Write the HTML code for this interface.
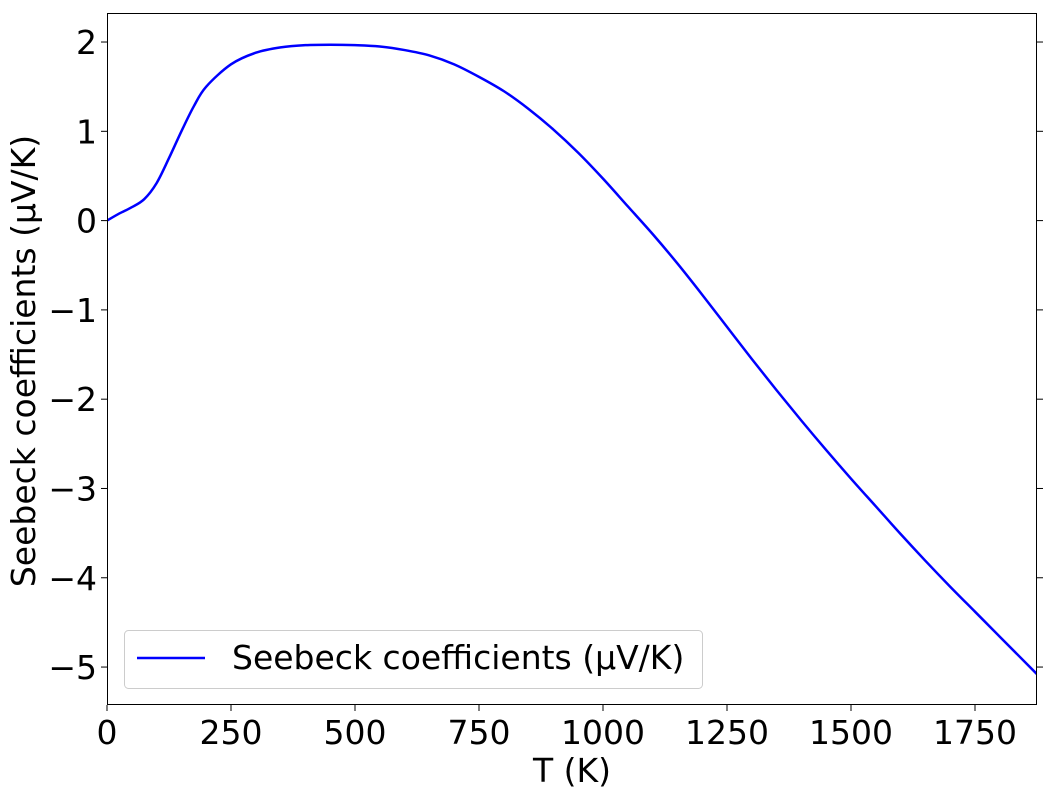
<!DOCTYPE html>
<html><head><meta charset="utf-8"><style>
body{margin:0;background:#fff;font-family:"DejaVu Sans",sans-serif}
svg text{font-family:"DejaVu Sans","Liberation Sans",sans-serif;fill:#000}
</style></head><body>
<svg width="1050" height="797">
<g id="g"></g>
</svg>
<script>
const temps=[0,25,50,75,100,125,150,175,200,250,300,350,400,450,500,550,600,650,700,750,800,850,900,950,1000,1050,1100,1150,1200,1250,1300,1350,1400,1450,1500,1550,1600,1650,1700,1750,1800,1875];
const seebeck=[0,0.08,0.15,0.24,0.42,0.7,1.0,1.28,1.5,1.75,1.88,1.94,1.965,1.97,1.965,1.95,1.91,1.85,1.75,1.61,1.45,1.25,1.02,0.76,0.47,0.16,-0.15,-0.48,-0.83,-1.19,-1.55,-1.9,-2.24,-2.57,-2.89,-3.2,-3.51,-3.81,-4.1,-4.38,-4.66,-5.08];
const xTicks=[0,250,500,750,1000,1250,1500,1750];
const yTicks=[2,1,0,-1,-2,-3,-4,-5];
const L=107,R=1037,T=13,B=705,xmin=0,xmax=1875,ymin=-5.425,ymax=2.325;
const sx=v=>L+(v-xmin)/(xmax-xmin)*(R-L);
const sy=v=>B-(v-ymin)/(ymax-ymin)*(B-T);
const ns="http://www.w3.org/2000/svg",g=document.getElementById('g');
function mk(t,a,txt){const e=document.createElementNS(ns,t);for(const k in a)e.setAttribute(k,a[k]);if(txt!==undefined)e.textContent=txt;g.appendChild(e);return e;}
const pts=temps.map((t,i)=>[sx(t),sy(seebeck[i])]);
let d=`M${pts[0][0]},${pts[0][1]}`;
for(let i=0;i<pts.length-1;i++){const p0=pts[Math.max(0,i-1)],p1=pts[i],p2=pts[i+1],p3=pts[Math.min(pts.length-1,i+2)];
d+=` C${p1[0]+(p2[0]-p0[0])/6},${p1[1]+(p2[1]-p0[1])/6} ${p2[0]-(p3[0]-p1[0])/6},${p2[1]-(p3[1]-p1[1])/6} ${p2[0]},${p2[1]}`;}
const cp=document.createElementNS(ns,'clipPath');cp.id='c';const cr=document.createElementNS(ns,'rect');
cr.setAttribute('x',L);cr.setAttribute('y',T);cr.setAttribute('width',R-L);cr.setAttribute('height',B-T);cp.appendChild(cr);g.appendChild(cp);
const line=mk('path',{d:d,fill:'none',stroke:'#0000ff','stroke-width':2.5,'stroke-linejoin':'round','clip-path':'url(#c)'});


xTicks.forEach(v=>{const x=sx(v);mk('line',{x1:x,x2:x,y1:B,y2:B+6,stroke:'#000'});
const t=mk('text',{x:x,y:B+39,'text-anchor':'middle','font-size':33},v);

});
yTicks.forEach(v=>{const y=sy(v);mk('line',{x1:L-6,x2:L,y1:y,y2:y,stroke:'#000'});mk('line',{x1:R,x2:R+6,y1:y,y2:y,stroke:'#000'});
const t=mk('text',{x:L-10,y:y+12,'text-anchor':'end','font-size':33},v<0?'\u2212'+(-v):v);

});
const fr=mk('rect',{x:L+0.5,y:T+0.5,width:R-L-1,height:B-T-1,fill:'none',stroke:'#000','stroke-width':1});


const xt=mk('text',{x:(L+R)/2,y:782,'text-anchor':'middle','font-size':33},'T (K)');


const yt=mk('text',{x:0,y:0,'text-anchor':'middle','font-size':33,transform:`translate(35,${(T+B)/2+2}) rotate(-90)`},'Seebeck coefficients (\u00b5V/K)');


const lg=mk('rect',{x:124.5,y:630.5,width:578,height:58,rx:4,fill:'#fff','fill-opacity':0.8,stroke:'#ccc'});


mk('line',{x1:137,x2:205,y1:658,y2:658,stroke:'#0000ff','stroke-width':2.5});
const lt=mk('text',{x:232,y:669,'font-size':33},'Seebeck coefficients (\u00b5V/K)');


</script>
</body></html>
